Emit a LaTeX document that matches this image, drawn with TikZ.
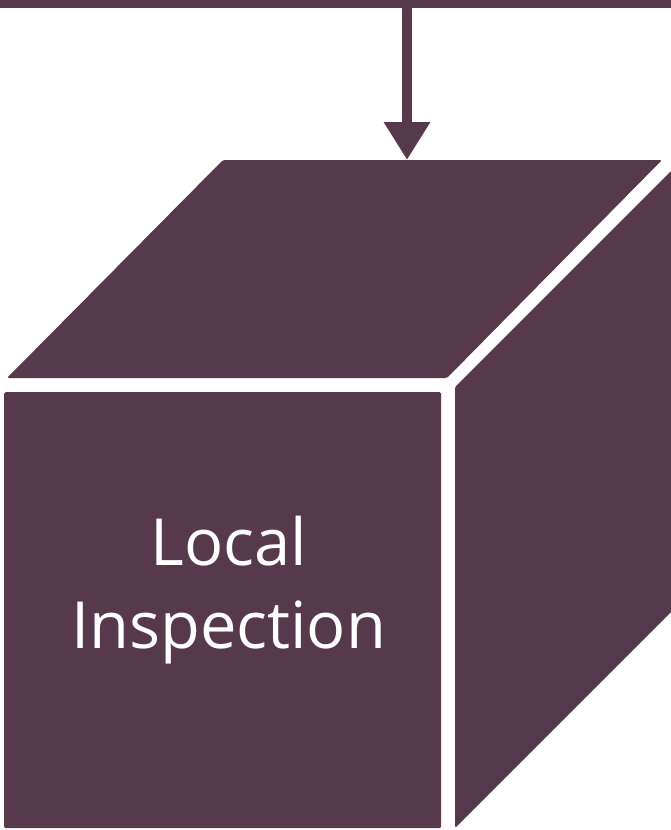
\documentclass[tikz,border=0pt]{standalone}
\usepackage{fontspec}
\setsansfont{Open Sans}
\usepackage{tikz}
\usetikzlibrary{arrows.meta, positioning}
\definecolor{plum}{RGB}{86,58,76}

\begin{document}
\begin{tikzpicture}[x=1pt, y=-1pt,
        face/.style={fill=plum, rounded corners=1.5pt},
        box/.style={fill=plum, inner sep=0pt, anchor=north west},
        caption/.style={text=white, align=center, font=\sffamily\fontsize{65}{83}\selectfont},
        arrow/.style={draw=plum, line width=10pt, -{Triangle[width=44pt, length=38pt]}}
    ]
    \clip (0,0) rectangle (671,830);

        \node[box, minimum width=671pt, minimum height=8pt] (bus) at (0,0) {};
        \node[box, face, minimum width=437pt, minimum height=436pt] (front) at (4,392) {};
        \node[caption] (label) at ([xshift=6pt, yshift=20pt]front.center) {Local\\Inspection};

        % top and side of the box
        \fill[face] (7,378) -- (223,160) -- (662,160) -- (447,378) -- cycle;
        \fill[face] (455,387) -- (690,152) -- (690,593) -- (455,828) -- cycle;

        \coordinate (lid) at (407,160);
        \draw[arrow] (bus.south -| lid) -- (lid);
    \end{tikzpicture}
\end{document}
